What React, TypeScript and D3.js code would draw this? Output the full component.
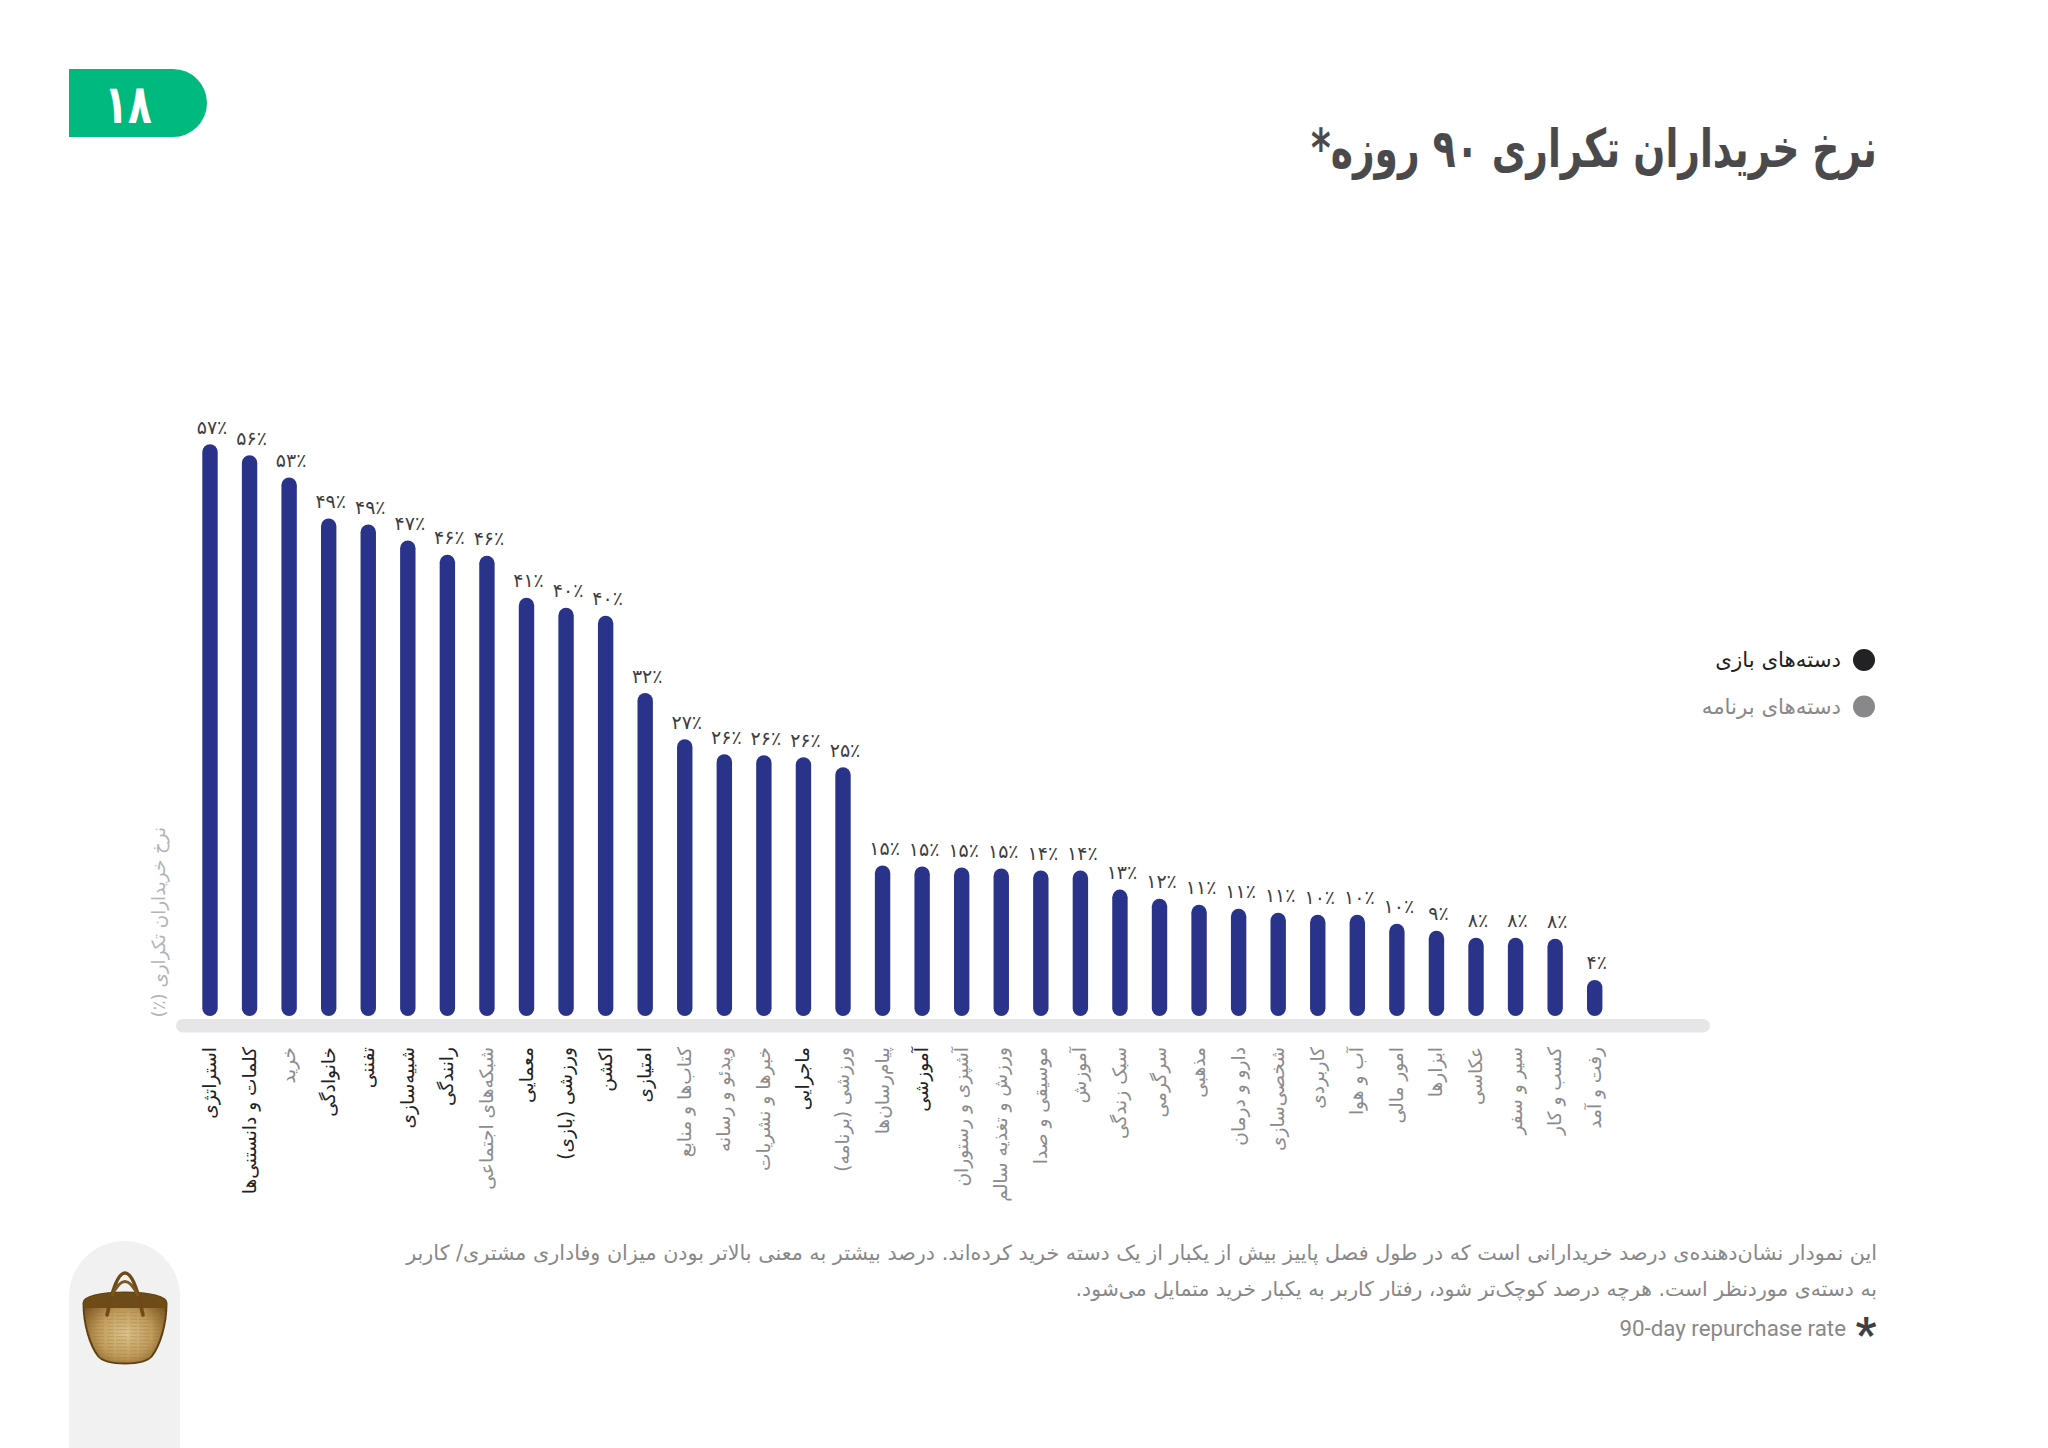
import React from "react";
import * as d3 from "d3";

const categories = ["استراتژی","کلمات و دانستنی‌ها","خرید","خانوادگی","تفننی","شبیه‌سازی","رانندگی","شبکه‌های اجتماعی","معمایی","ورزشی (بازی)","اکشن","امتیازی","کتاب‌ها و منابع","ویدئو و رسانه","خبرها و نشریات","ماجرایی","ورزشی (برنامه)","پیام‌رسان‌ها","آموزشی","آشپزی و رستوران","ورزش و تغذیه سالم","موسیقی و صدا","آموزش","سبک زندگی","سرگرمی","مذهبی","دارو و درمان","شخصی‌سازی","کاربردی","آب و هوا","امور مالی","ابزارها","عکاسی","سیر و سفر","کسب و کار","رفت و آمد"];
const barValues = [57.0,55.9,53.7,49.6,49.0,47.4,46.0,45.9,41.7,40.7,39.9,32.2,27.6,26.1,26.0,25.8,24.8,15.0,14.9,14.8,14.7,14.5,14.5,12.6,11.7,11.1,10.7,10.3,10.1,10.1,9.2,8.5,7.8,7.8,7.7,3.6];
const valueLabels = [57,56,53,49,49,47,46,46,41,40,40,32,27,26,26,26,25,15,15,15,15,14,14,13,12,11,11,11,10,10,10,9,8,8,8,4];
const gameCategories = ["استراتژی","کلمات و دانستنی‌ها","خانوادگی","تفننی","شبیه‌سازی","رانندگی","معمایی","ورزشی (بازی)","اکشن","امتیازی","ماجرایی","آموزشی"];
const legendItems = ["دسته‌های بازی","دسته‌های برنامه"];
const legendColors = ["#222225","#88888a"];

const FONT = "'DejaVu Sans', sans-serif";
const fa = (n: number) => String(n).replace(/\d/g, (d) => "۰۱۲۳۴۵۶۷۸۹"[+d]);

const x = d3.scalePoint<string>().domain(categories).range([210, 1594.7]);
const y = d3.scaleLinear().domain([0, 57]).range([1016, 444.3]);
const BAR_W = 15.4;

function Basket() {
  const body = "M83.5 1303 C83 1297 100 1292.5 125 1292.5 C150 1292.5 167 1297 166.5 1303 C166.5 1325 160 1345 152 1356 C148 1361 140 1363.5 125 1363.5 C110 1363.5 102 1361 98 1356 C90 1345 83.5 1325 83.5 1303 Z";
  const rows = d3.range(1312, 1362, 3.5);
  return (
    <g>
      <defs>
        <radialGradient id="wv" cx="50%" cy="58%" r="58%">
          <stop offset="0%" stopColor="#dbc28c" />
          <stop offset="55%" stopColor="#c09c5c" />
          <stop offset="100%" stopColor="#7d5722" />
        </radialGradient>
        <clipPath id="bc"><path d={body} /></clipPath>
      </defs>
      <path d={body} fill="url(#wv)" stroke="#5f410f" strokeWidth={2} />
      <g clipPath="url(#bc)">
        <rect x={80} y={1290} width={90} height={18} fill="#6d4c18" />
        {rows.map((r) => (
          <line key={r} x1={84} x2={166} y1={r} y2={r + 0.5} stroke="#96733a" strokeOpacity={0.35} strokeWidth={1} strokeDasharray="7 2 11 3" />
        ))}
      </g>
      <path d="M107 1315 L111 1298 C115 1283 120 1273 125 1273 C130 1273 135 1283 139 1298 L143 1315" fill="none" stroke="#6f4a18" strokeWidth={3.6} strokeLinecap="round" />
      <path d="M112 1296 C116 1287 120 1281.5 125 1281.5 C130 1281.5 134 1287 138 1296" fill="none" stroke="#7d5720" strokeWidth={2.8} />
    </g>
  );
}

export default function App() {
  return (
    <svg width={2048} height={1448} viewBox="0 0 2048 1448" style={{ position: "absolute", left: 0, top: 0, display: "block", background: "#fff" }} fontFamily={FONT}>
      {/* page badge */}
      <path d="M69 69 H173 A34 34 0 0 1 173 137 H69 Z" fill="#00b97e" />
      <text transform="translate(128,123) scale(0.72,1)" textAnchor="middle" fontSize={54} fontWeight={700} fill="#fff">{fa(18)}</text>

      {/* title */}
      <text transform="translate(1877,167) scale(0.71,1)" direction="rtl" textAnchor="start" fontSize={53} fontWeight={700} fill="#4a4a4d">نرخ خریداران تکراری ۹۰ روزه*</text>

      {/* axis baseline */}
      <rect x={176} y={1019} width={1534} height={13.5} rx={6.7} fill="#e6e6e8" />

      {/* bars */}
      {categories.map((c, i) => {
        const top = y(barValues[i]);
        return <rect key={c} x={x(c)! - BAR_W / 2} y={top} width={BAR_W} height={y(0) - top} rx={BAR_W / 2} fill="#29338a" />;
      })}

      {/* value labels */}
      {categories.map((c, i) => (
        <text key={c} x={x(c)! + 2} y={y(barValues[i]) - 10.5} textAnchor="middle" fontSize={19} fill="#3d3d42">{fa(valueLabels[i]) + "٪"}</text>
      ))}

      {/* category labels */}
      {categories.map((c) => (
        <text key={c} transform={`translate(${x(c)! + 6},1047) rotate(-90)`} direction="rtl" textAnchor="start" fontSize={18.6} fill={gameCategories.includes(c) ? "#222225" : "#8b8b8e"}>{c}</text>
      ))}

      {/* y axis title */}
      <text transform="translate(165,827) rotate(-90)" direction="rtl" textAnchor="start" fontSize={18.3} fill="#b4b4b6">نرخ خریداران تکراری (٪)</text>

      {/* legend */}
      {legendItems.map((t, i) => (
        <g key={t}>
          <circle cx={1864} cy={660 + i * 46.5} r={11} fill={legendColors[i]} />
          <text x={1841} y={667 + i * 46.5} direction="rtl" textAnchor="start" fontSize={21.3} fill={legendColors[i]}>{t}</text>
        </g>
      ))}

      {/* note */}
      <text x={1877} y={1259.5} direction="rtl" textAnchor="start" fontSize={20.7} fill="#88888a">این نمودار نشان‌دهنده‌ی درصد خریدارانی است که در طول فصل پاییز بیش از یکبار از یک دسته خرید کرده‌اند. درصد بیشتر به معنی بالاتر بودن میزان وفاداری مشتری/ کاربر</text>
      <text x={1877} y={1295.5} direction="rtl" textAnchor="start" fontSize={20.4} fill="#88888a">به دسته‌ی موردنظر است. هرچه درصد کوچک‌تر شود، رفتار کاربر به یکبار خرید متمایل می‌شود.</text>
      <text x={1846} y={1335.5} textAnchor="end" fontFamily="Roboto, sans-serif" fontSize={22.3} fill="#88888a">90-day repurchase rate</text>
      <text x={1866} y={1350} textAnchor="middle" fontFamily="Roboto, sans-serif" fontSize={46} fontWeight={700} fill="#3f3f44">*</text>

      {/* icon tab */}
      <path d="M69 1448 V1296.5 A55.5 55.5 0 0 1 180 1296.5 V1448 Z" fill="#f1f1f2" />
      <Basket />
    </svg>
  );
}
